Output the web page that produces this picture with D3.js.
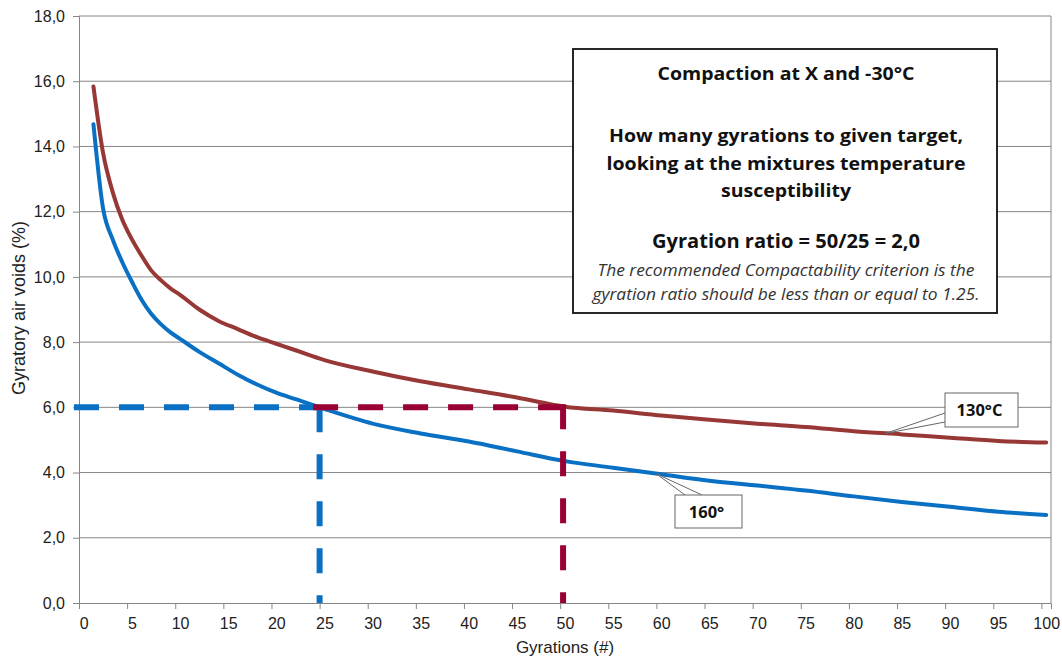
<!DOCTYPE html>
<html>
<head>
<meta charset="utf-8">
<script src="https://cdn.jsdelivr.net/npm/d3@7"></script>
<style>
  body { margin: 0; background: #fff; }
  svg { display: block; font-family: "Liberation Sans", Arial, sans-serif; }
  .box text { font-family: "Open Sans", Lato, sans-serif; }
</style>
</head>
<body>
<svg id="chart" width="1062" height="659"></svg>
<script>
// gyrations and air voids
const gyrations = [1, 2, 3, 4, 5, 6, 7, 8, 9, 10, 12, 14, 16, 18, 20, 22, 25, 30, 35, 40, 45, 50, 55, 60, 65, 70, 75, 80, 85, 90, 95, 100];
const voids130 = [15.84, 13.8, 12.6, 11.75, 11.15, 10.65, 10.2, 9.9, 9.65, 9.45, 9.0, 8.65, 8.4, 8.15, 7.95, 7.75, 7.45, 7.1, 6.8, 6.55, 6.3, 6.02, 5.9, 5.75, 5.62, 5.5, 5.4, 5.27, 5.17, 5.07, 4.97, 4.92];
const voids160 = [14.68, 12.1, 11.15, 10.45, 9.85, 9.3, 8.87, 8.55, 8.3, 8.1, 7.7, 7.35, 7.0, 6.7, 6.45, 6.25, 5.95, 5.5, 5.2, 4.95, 4.65, 4.35, 4.15, 3.95, 3.75, 3.6, 3.45, 3.27, 3.1, 2.95, 2.8, 2.7];
const yTicks = [0, 2, 4, 6, 8, 10, 12, 14, 16, 18];
const xTicks = d3.range(0, 101, 5);
const target = 6.0;
const gyr160 = 25, gyr130 = 50;
const boxLines = [
  "Compaction at X and -30°C",
  "How many gyrations to given target,",
  "looking at the mixtures temperature",
  "susceptibility",
  "Gyration ratio = 50/25 = 2,0",
  "The recommended Compactability criterion is the",
  "gyration ratio should be less than or equal to 1.25."
];

const svg = d3.select("#chart");
const m = { left: 79, top: 16, right: 1051, bottom: 603 };
// category axis: 101 slots, points sit at slot centres
const x = d3.scaleLinear().domain([0, 101]).range([m.left, m.right]);
const xc = g => x(g + 0.5);
const y = d3.scaleLinear().domain([0, 18]).range([m.bottom, m.top]);
const grey = "#868686";

// gridlines + right border
svg.append("g")
  .selectAll("line")
  .data(yTicks.filter(d => d > 0))
  .join("line")
  .attr("x1", m.left).attr("x2", m.right)
  .attr("y1", d => y(d)).attr("y2", d => y(d))
  .attr("stroke", grey).attr("stroke-width", 1);
svg.append("line")
  .attr("x1", m.right).attr("x2", m.right)
  .attr("y1", m.top).attr("y2", m.bottom)
  .attr("stroke", grey);

// axes
const yAxis = svg.append("g")
  .attr("transform", `translate(${m.left},0)`)
  .call(d3.axisLeft(y).tickValues(yTicks).tickSize(6)
    .tickFormat(d => d3.format(".1f")(d).replace(".", ",")));
const xAxis = svg.append("g")
  .attr("transform", `translate(0,${m.bottom})`)
  .call(d3.axisBottom(x).tickValues(xTicks).tickSize(6).tickPadding(9));
[yAxis, xAxis].forEach(g => {
  g.select(".domain").attr("stroke", grey);
  g.selectAll(".tick line").attr("stroke", grey);
  g.selectAll("text").attr("font-size", 16).attr("fill", "#222")
    .attr("font-family", "Liberation Sans, Arial, sans-serif");
});
yAxis.selectAll("text").attr("x", -14);
xAxis.selectAll("text").attr("x", x(0.5) - x(0));

svg.append("text")
  .attr("transform", `translate(25,308) rotate(-90)`)
  .attr("text-anchor", "middle").attr("font-size", 18).attr("fill", "#222")
  .text("Gyratory air voids (%)");
svg.append("text")
  .attr("x", 565).attr("y", 653)
  .attr("text-anchor", "middle").attr("font-size", 17).attr("fill", "#222")
  .text("Gyrations (#)");

// curves
const line = d3.line().x(d => xc(d[0])).y(d => y(d[1])).curve(d3.curveMonotoneX);
svg.append("path")
  .datum(d3.zip(gyrations, voids130))
  .attr("d", line)
  .attr("fill", "none").attr("stroke", "#973836").attr("stroke-width", 4)
  .attr("stroke-linecap", "round");
svg.append("path")
  .datum(d3.zip(gyrations, voids160))
  .attr("d", line)
  .attr("fill", "none").attr("stroke", "#0A70C4").attr("stroke-width", 4)
  .attr("stroke-linecap", "round");

// dashed target lines
function dashed(d, color, pattern) {
  svg.append("path")
    .attr("d", d)
    .attr("fill", "none").attr("stroke", color).attr("stroke-width", 6)
    .attr("stroke-dasharray", pattern);
}
const blueX = x(gyr160), redX = x(gyr130 + 0.3);
dashed(`M${x(0) - 5},${y(target)}H${blueX - 3}`, "#0A70C4", "25 20");
dashed(`M${blueX},${y(target)}V${y(0)}`, "#0A70C4", "25 22");
dashed(`M${blueX - 6.5},${y(target)}H${redX + 3}`, "#990033", "25 20");
dashed(`M${redX},${y(target) - 3}V${y(0)}`, "#990033", "25 22");

// text box
const box = svg.append("g").attr("class", "box");
box.append("rect")
  .attr("x", 573).attr("y", 49).attr("width", 424).attr("height", 264)
  .attr("fill", "#fff").attr("stroke", "#111").attr("stroke-width", 1.8);
const boxLayout = [
  { y: 80, size: 17.5, w: 257, italic: false },
  { y: 142, size: 17.5, w: 354, italic: false },
  { y: 170, size: 17.5, w: 359, italic: false },
  { y: 197, size: 17.5, w: 130, italic: false },
  { y: 248, size: 19.5, w: 268, italic: false },
  { y: 276, size: 15.5, w: 377, italic: true },
  { y: 300, size: 15.5, w: 387, italic: true }
];
boxLines.forEach((t, i) => {
  const s = boxLayout[i];
  box.append("text")
    .attr("x", 786).attr("y", s.y)
    .attr("text-anchor", "middle")
    .attr("font-size", s.size)
    .attr("font-weight", s.italic ? "normal" : "bold")
    .attr("font-style", s.italic ? "italic" : "normal")
    .attr("textLength", s.w).attr("lengthAdjust", "spacingAndGlyphs")
    .attr("fill", s.italic ? "#333" : "#111")
    .text(t);
});

// callouts
function callout(pt, bx, by, bw, bh, a, b, label) {
  const g = svg.append("g").attr("class", "box");
  g.append("path")
    .attr("d", `M${a[0]},${a[1]}L${xc(pt[0])},${y(pt[1])}L${b[0]},${b[1]}`)
    .attr("fill", "#fff").attr("stroke", "#666").attr("stroke-width", 1);
  g.append("rect")
    .attr("x", bx).attr("y", by).attr("width", bw).attr("height", bh)
    .attr("fill", "#fff").attr("stroke", "#666").attr("stroke-width", 1);
  g.append("text")
    .attr("x", bx + bw / 2 - 2).attr("y", by + bh / 2 + 6)
    .attr("text-anchor", "middle").attr("font-size", 16.5).attr("font-weight", "bold")
    .attr("fill", "#111").text(label);
}
callout([59.5, 3.96], 675, 495, 67, 33, [685, 495], [702, 495], "160°");
callout([83.3, 5.2], 945, 393, 73, 34, [945, 413], [945, 422], "130°C");
</script>
</body>
</html>
